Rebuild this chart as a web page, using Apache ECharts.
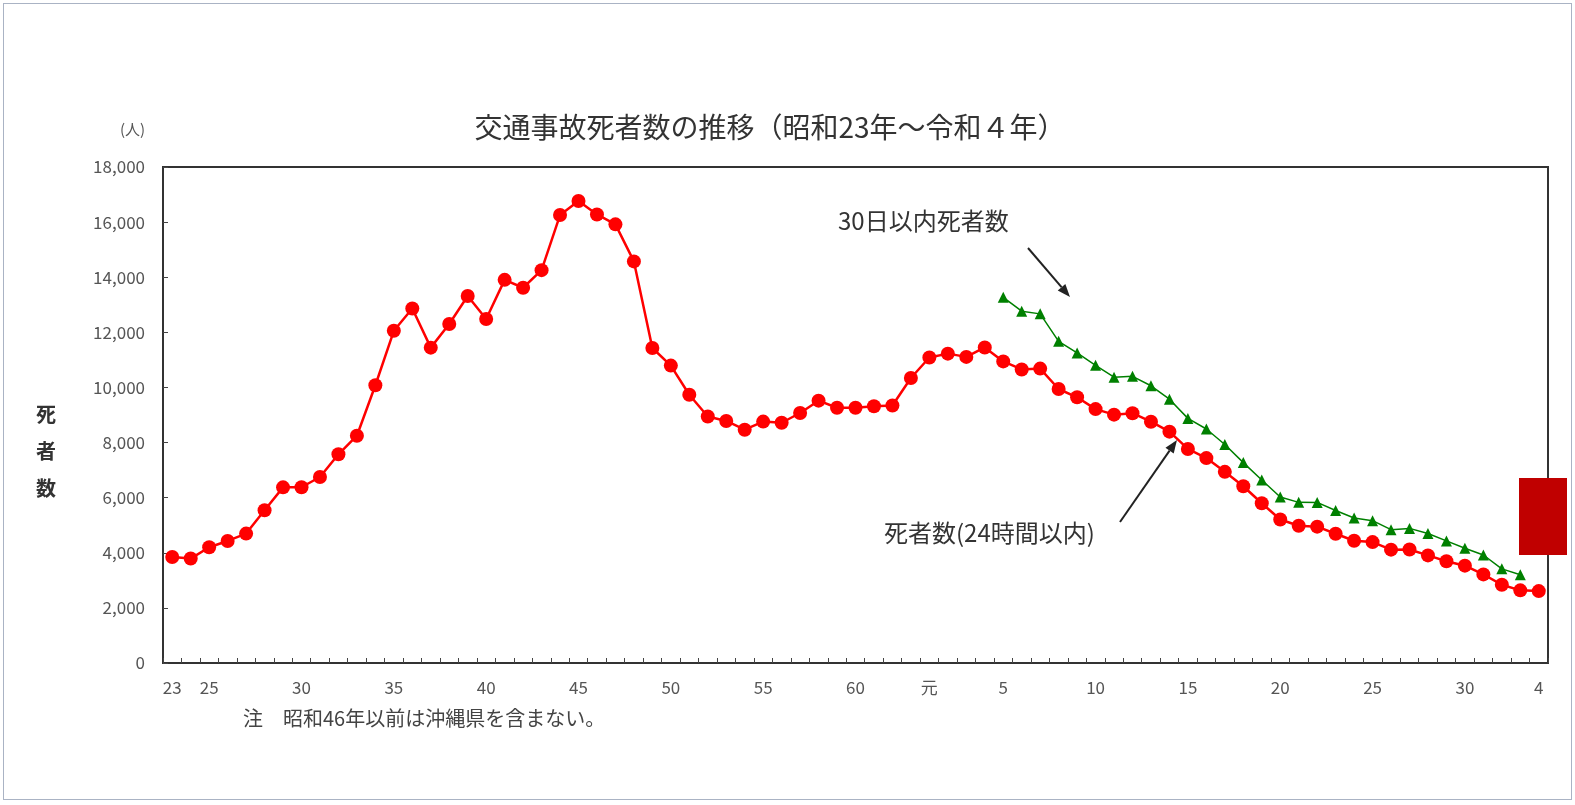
<!DOCTYPE html>
<html>
<head>
<meta charset="utf-8">
<script src="https://cdn.jsdelivr.net/npm/echarts@6/dist/echarts.min.js"></script>
<style>
  html, body { margin: 0; padding: 0; background: #fff; }
  #chart { position: absolute; left: 0; top: 0; width: 1575px; height: 805px; }
  #frame { position: absolute; left: 3px; top: 3px; width: 1567px; height: 795px; border: 1.5px solid #aab3c4; pointer-events: none; }
</style>
</head>
<body>
<div id="chart"></div>
<div id="frame"></div>
<script>
// Categories: calendar years (昭和23年 = 1948 … 令和4年 = 2022)
const years = ['1948','1949','1950','1951','1952','1953','1954','1955','1956','1957',
  '1958','1959','1960','1961','1962','1963','1964','1965','1966','1967',
  '1968','1969','1970','1971','1972','1973','1974','1975','1976','1977',
  '1978','1979','1980','1981','1982','1983','1984','1985','1986','1987',
  '1988','1989','1990','1991','1992','1993','1994','1995','1996','1997',
  '1998','1999','2000','2001','2002','2003','2004','2005','2006','2007',
  '2008','2009','2010','2011','2012','2013','2014','2015','2016','2017',
  '2018','2019','2020','2021','2022'];

// 死者数（24時間以内）
const deaths24h = [3848,3790,4202,4429,4696,5544,6374,6379,6751,7575,
  8248,10079,12055,12865,11445,12301,13318,12484,13904,13618,
  14256,16257,16765,16278,15918,14574,11432,10792,9734,8945,
  8783,8466,8760,8719,9073,9520,9262,9261,9317,9347,
  10344,11086,11227,11109,11452,10945,10653,10684,9943,9642,
  9214,9012,9066,8757,8396,7768,7436,6937,6415,5796,
  5209,4979,4948,4691,4438,4388,4113,4117,3904,3694,
  3532,3215,2839,2636,2610];

// 30日以内死者数 (平成5年 = 1993 … 令和3年 = 2021)
const deaths30dYears = ['1993','1994','1995','1996','1997','1998','1999','2000','2001','2002',
  '2003','2004','2005','2006','2007','2008','2009','2010','2011','2012',
  '2013','2014','2015','2016','2017','2018','2019','2020','2021'];
const deaths30d = [13269,12768,12670,11674,11254,10805,10372,10403,10060,9575,
  8877,8492,7931,7272,6639,6023,5830,5828,5535,5261,
  5165,4838,4885,4698,4431,4166,3920,3416,3205];

// x-axis tick labels (和暦)
const tickYears  = ['1948','1950','1955','1960','1965','1970','1975','1980','1985','1989','1993','1998','2003','2008','2013','2018','2022'];
const tickLabels = ['23','25','30','35','40','45','50','55','60','元','5','10','15','20','25','30','4'];

const green = years.map(y => {
  const i = deaths30dYears.indexOf(y);
  return i >= 0 ? deaths30d[i] : null;
});

const FONT = '"Noto Sans CJK JP", "Noto Sans", sans-serif';

function arrow(x1, y1, x2, y2) {
  const ang = Math.atan2(y2 - y1, x2 - x1);
  const L = 13, W = 5;
  const bx = x2 - L * Math.cos(ang), by = y2 - L * Math.sin(ang);
  const px = -Math.sin(ang) * W, py = Math.cos(ang) * W;
  return [
    { type: 'line', shape: { x1: x1, y1: y1, x2: bx, y2: by }, style: { stroke: '#222', lineWidth: 2 }, z: 100 },
    { type: 'polygon', shape: { points: [[x2, y2], [bx + px, by + py], [bx - px, by - py]] }, style: { fill: '#222' }, z: 100 }
  ];
}

const chart = echarts.init(document.getElementById('chart'));
chart.setOption({
  backgroundColor: '#fff',
  animation: false,
  title: {
    text: '交通事故死者数の推移（昭和23年～令和４年）',
    left: 765, top: 108, textAlign: 'center',
    textStyle: { fontFamily: FONT, fontSize: 28, fontWeight: 'normal', color: '#333' }
  },
  grid: { left: 163, right: 27, top: 167, bottom: 142, show: true, borderColor: '#333', borderWidth: 2, backgroundColor: '#fff' },
  xAxis: {
    type: 'category',
    data: years,
    boundaryGap: true,
    axisLine: { lineStyle: { color: '#333', width: 2 } },
    axisTick: { show: true, inside: true, length: 5, interval: 0, lineStyle: { color: '#444', width: 1 } },
    axisLabel: {
      interval: (idx, val) => tickYears.indexOf(val) >= 0,
      formatter: val => tickLabels[tickYears.indexOf(val)],
      margin: 16, fontFamily: FONT, fontSize: 17, color: '#555'
    },
    splitLine: { show: false }
  },
  yAxis: {
    type: 'value',
    min: 0, max: 18000, interval: 2000,
    axisLine: { show: true, lineStyle: { color: '#333', width: 2 } },
    axisTick: { show: true, inside: true, length: 5, lineStyle: { color: '#444' } },
    axisLabel: { margin: 18, fontFamily: FONT, fontSize: 17, color: '#555' },
    splitLine: { show: false }
  },
  series: [
    {
      name: '死者数(24時間以内)',
      type: 'line',
      data: deaths24h,
      showAllSymbol: true,
      symbol: 'circle', symbolSize: 14,
      lineStyle: { color: '#ff0000', width: 2.5 },
      itemStyle: { color: '#ff0000' },
      z: 3
    },
    {
      name: '30日以内死者数',
      type: 'line',
      data: green,
      showAllSymbol: true,
      connectNulls: false,
      symbol: 'triangle', symbolSize: 11,
      lineStyle: { color: '#008000', width: 1.5 },
      itemStyle: { color: '#008000' },
      z: 4
    }
  ],
  graphic: [
    { type: 'text', left: 120, top: 122, style: { text: '(人)', font: '15px ' + FONT, fill: '#555' } },
    { type: 'text', left: 36, top: 396, style: { text: '死\n者\n数', font: 'bold 20px ' + FONT, fill: '#333', lineHeight: 37 } },
    { type: 'text', left: 838, top: 209, style: { text: '30日以内死者数', font: '24px ' + FONT, fill: '#333' } },
    { type: 'text', left: 884, top: 521, style: { text: '死者数(24時間以内)', font: '24px ' + FONT, fill: '#333' } },
    { type: 'text', left: 243, top: 708, style: { text: '注　昭和46年以前は沖縄県を含まない。', font: '20px ' + FONT, fill: '#444' } },
    ...arrow(1028, 248, 1070, 297),
    ...arrow(1120, 522, 1177, 440),
    { type: 'rect', shape: { x: 1519, y: 478, width: 48, height: 77 }, style: { fill: '#c00000' }, z: 200 }
  ]
});
</script>
</body>
</html>
